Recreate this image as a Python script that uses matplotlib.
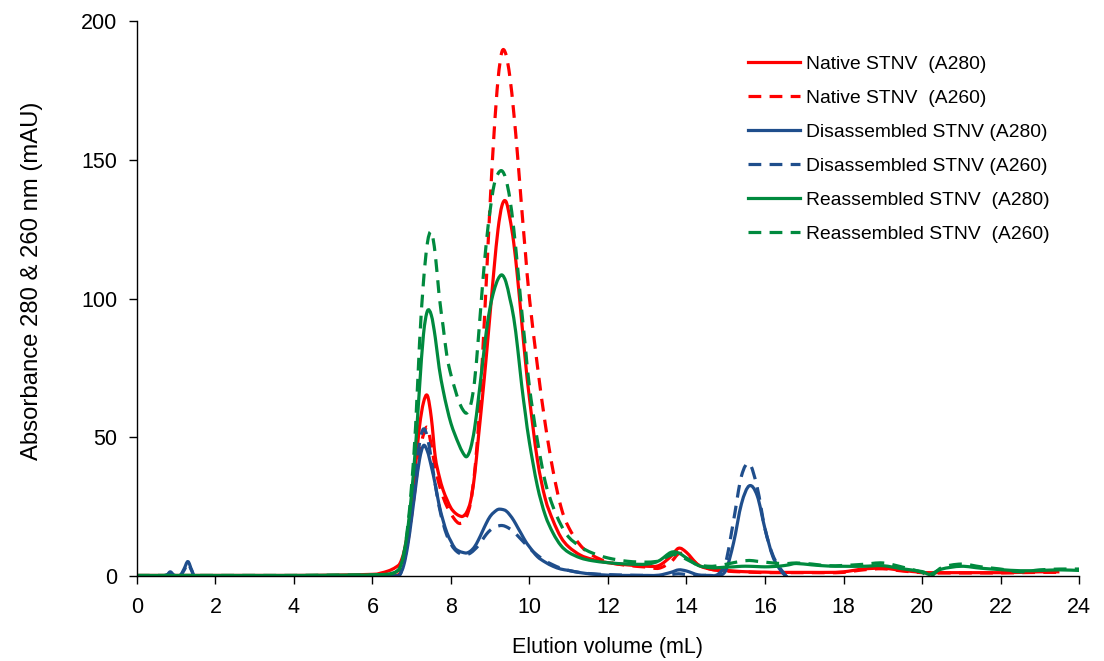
import numpy as np
import matplotlib
matplotlib.use("Agg")
import matplotlib.pyplot as plt
from matplotlib.path import Path
from matplotlib.patches import PathPatch
from matplotlib.lines import Line2D

plt.rcParams['font.family'] = ['Liberation Sans', 'DejaVu Sans']

# elution volume grid (mL)
volume = [0, 0.5, 0.75, 0.85, 0.95, 1.1, 1.2, 1.3, 1.4, 1.5,
          2, 3, 4, 5, 6, 6.2, 6.4, 6.5, 6.6,
          6.7, 6.8, 6.9, 7.0, 7.1, 7.2, 7.3, 7.4, 7.5, 7.6,
          7.7, 7.8, 7.9, 8.0, 8.1, 8.2, 8.3, 8.4, 8.5, 8.6,
          8.7, 8.8, 8.9, 9.0, 9.1, 9.2, 9.3, 9.4, 9.5, 9.6,
          9.7, 9.8, 9.9, 10.0, 10.2, 10.4, 10.6, 10.8, 11.0,
          11.3, 11.6, 12.0, 12.5, 13.0, 13.3, 13.6, 13.8, 14.0, 14.3, 14.6, 14.8,
          15.0, 15.2, 15.4, 15.6, 15.8, 16.0, 16.2, 16.4, 16.6, 16.8,
          17.2, 17.6, 18.0, 18.5, 19.0, 19.5, 20.0, 20.2, 20.5, 21.0, 21.5, 22.0, 22.5, 23.0, 23.5, 24.0]

nan = np.nan

native_280 = [0.2, 0.2, 0.2, 0.2, 0.2, 0.2, 0.2, 0.2, 0.2, 0.2,
              0.2, 0.2, 0.2, 0.3, 0.6, 1.0, 1.8, 2.4, 3.2,
              4.5, 8.5, 16, 27, 40, 54, 62.5, 65, 57, 43,
              36, 31, 27.5, 24.5, 22.8, 21.8, 21.5, 23, 27, 36,
              50, 64, 79, 95, 111, 125, 133.5, 135, 129, 120,
              107, 92, 77, 64, 42, 28, 20, 14, 10.5,
              7.5, 6, 4.8, 4, 3.5, 3.8, 7, 10, 8.5, 4, 2.5, 2.2,
              2, 1.8, 1.6, 1.5, 1.4, 1.4, 1.3, 1.3, 1.3, 1.3,
              1.3, 1.3, 1.5, 2.5, 2.8, 2, 1.3, 1.2, 1.2, 1.2, 1.2, 1.2, 1.3, 1.5, 1.5, nan]

native_260 = [0, 0, 0, 0, 0, 0, 0, 0, 0, 0,
              0, 0, 0, 0, 0, 0, 0, 0, 0.2,
              1, 5, 12, 22, 33, 44, 51, 53.5, 47, 39,
              33, 28.5, 25, 22.5, 20.3, 19, 19.3, 21.5, 26.5, 37,
              54, 78, 106, 135, 160, 179, 189, 188, 180, 167,
              151, 133, 116, 100, 76, 55, 38, 25, 17.5,
              11, 7.5, 5, 3.8, 3.2, 2.8, 5, 8, 7.5, 4, 2.5, 2,
              1.8, 1.6, 1.5, 1.4, 1.3, 1.2, 1.2, 1.2, 1.2, 1.2,
              1.2, 1.2, 1.3, 2.2, 2.6, 1.8, 1.2, 1.1, 1.1, 1.1, 1.1, 1.1, 1.2, 1.3, 1.3, nan]

disassembled_280 = [0, 0, 0.3, 1.5, 0.3, 0.2, 2.5, 5.2, 2, 0,
                    0, 0, 0, 0, 0, 0, 0, 0, 0,
                    0.5, 4, 11, 21, 32, 42, 47, 45, 39.5, 33,
                    25.5, 20, 15.5, 12.5, 10, 9, 8.5, 8.3, 9, 10.5,
                    13, 16, 19, 21.5, 23, 24, 24, 23.5, 22, 20,
                    17.5, 15, 12.5, 10.5, 7, 5, 3.5, 2.5, 2,
                    1.2, 0.7, 0.3, 0.2, 0.2, 0.3, 1.3, 2.2, 1.8, 0.4, 0.2, 0.2,
                    2, 12, 26, 32.5, 29, 17, 7, 2, -1, nan,
                    nan, nan, nan, nan, nan, nan, nan, nan, nan, nan, nan, nan, nan, nan, nan, nan]

disassembled_260 = [0, 0, 0.3, 1.2, 0.3, 0.2, 2, 4.5, 1.8, 0,
                    0, 0, 0, 0, 0, 0, 0, 0, 0,
                    0.5, 5, 13, 25, 37, 48, 53, 50, 42, 33,
                    25, 19, 14.5, 11.5, 9.5, 8.3, 7.8, 7.7, 8.3, 9.5,
                    11, 13, 15, 16.5, 17.5, 18, 18.2, 17.8, 17, 16,
                    14.5, 13, 11.5, 10, 7.5, 5.5, 4, 2.8, 2,
                    1.2, 0.8, 0.5, 0.3, 0.2, 0.1, 0.5, 0.8, 0.5, 0.2, 0.3, 0.6,
                    5, 20, 36, 40.5, 32, 17, 7.5, 2.5, -1, nan,
                    nan, nan, nan, nan, nan, nan, nan, nan, nan, nan, nan, nan, nan, nan, nan, nan]

reassembled_280 = [0.2, 0.2, 0.2, 0.2, 0.2, 0.2, 0.2, 0.2, 0.2, 0.2,
                   0.2, 0.2, 0.2, 0.3, 0.4, 0.5, 0.7, 1, 1.5,
                   3, 8, 17, 30, 47, 68, 87, 95.5, 94, 86,
                   75, 67, 60.5, 55, 51, 47.5, 44.5, 43, 46, 53,
                   64, 76, 88, 97, 103, 107, 108.5, 106, 100, 93,
                   82, 69, 58, 48, 32.5, 22, 15.5, 11, 8.5,
                   6.5, 5.5, 4.8, 4.3, 4.3, 5.5, 8.5, 8.3, 6.5, 3.8, 3, 3,
                   3.2, 3.3, 3.5, 3.5, 3.4, 3.3, 3.4, 3.6, 4, 4.5,
                   4, 3.6, 3.5, 3.5, 3.7, 2.6, 1.6, 0.6, 2.5, 3.5, 2.8, 2.3, 1.9, 2, 2.2, 2]

reassembled_260 = [0.2, 0.2, 0.2, 0.2, 0.2, 0.2, 0.2, 0.2, 0.2, 0.2,
                   0.2, 0.2, 0.2, 0.3, 0.4, 0.5, 0.6, 0.8, 1.5,
                   3, 8, 18, 33, 54, 84, 106, 120, 124, 116,
                   101, 90, 79, 72.5, 67.5, 63, 60, 58.7, 61.5, 70,
                   86, 104, 120, 132, 141, 145, 146, 143, 136, 125,
                   111, 96, 82, 68, 49, 34, 25, 18.5, 14,
                   10.5, 8.3, 6.5, 5.3, 5, 5.5, 7.5, 7.5, 6, 4, 3.5, 3.7,
                   4.2, 4.8, 5.3, 5.6, 5.3, 5, 4.7, 4.5, 4.5, 4.7,
                   4.3, 3.7, 3.8, 4.2, 4.7, 3.2, 1.3, -0.4, 3.0, 4.3, 3.3, 2.5, 1.5, 2.2, 2.5, 2.5]

labels = ["Native STNV  (A280)", "Native STNV  (A260)",
          "Disassembled STNV (A280)", "Disassembled STNV (A260)",
          "Reassembled STNV  (A280)", "Reassembled STNV  (A260)"]

red = '#FF0000'
blue = '#1F4E8C'
green = '#008A3E'


def smooth_path(x, y):
    # Excel-style smoothed line: Catmull-Rom through the points as cubic Beziers
    x = np.asarray(x, float)
    y = np.asarray(y, float)
    ok = ~np.isnan(y)
    x, y = x[ok], y[ok]
    pts = np.column_stack([x, y])
    verts = [pts[0]]
    codes = [Path.MOVETO]
    n = len(pts)
    for i in range(n - 1):
        p0 = pts[i - 1] if i > 0 else pts[i]
        p1 = pts[i]
        p2 = pts[i + 1]
        p3 = pts[i + 2] if i + 2 < n else pts[i + 1]
        c1 = p1 + (p2 - p0) / 6.0
        c2 = p2 - (p3 - p1) / 6.0
        verts += [c1, c2, p2]
        codes += [Path.CURVE4] * 3
    return Path(verts, codes)


fig = plt.figure(figsize=(11.04, 6.61), dpi=100)
ax = fig.add_axes([0.124, 0.1286, 0.8534, 0.8396])

lw = 2.3
dash = (4.0, 2.6)
series = [(native_280, red, '-'), (native_260, red, '--'),
          (disassembled_280, blue, '-'), (disassembled_260, blue, '--'),
          (reassembled_280, green, '-'), (reassembled_260, green, '--')]
handles = []
for (vals, col, ls), lab in zip(series, labels):
    patch = PathPatch(smooth_path(volume, vals), facecolor='none', edgecolor=col,
                      lw=lw, capstyle='butt', joinstyle='round')
    if ls == '--':
        patch.set_linestyle((0, dash))
    ax.add_patch(patch)
    h = Line2D([], [], color=col, lw=lw, label=lab)
    if ls == '--':
        h.set_dashes(dash)
    handles.append(h)

ax.set_xlim(0, 24)
ax.set_ylim(0, 200)
ax.set_xticks(range(0, 25, 2))
ax.set_yticks(range(0, 201, 50))
for s in ['top', 'right']:
    ax.spines[s].set_visible(False)
for s in ['left', 'bottom']:
    ax.spines[s].set_linewidth(1.0)
ax.tick_params(direction='out', length=6, width=1.0, labelsize=15.5)
ax.tick_params(axis='x', pad=9)
ax.tick_params(axis='y', pad=8)

ax.set_xlabel('Elution volume (mL)', fontsize=15.5, labelpad=14)
ax.set_ylabel('Absorbance 280 & 260 nm (mAU)', fontsize=17.2)
ax.yaxis.set_label_coords(-0.100, 0.532)

ax.legend(handles=handles, loc='upper left', bbox_to_anchor=(0.6486, 0.938),
          frameon=False, fontsize=13.9, handlelength=2.7, handletextpad=0.31,
          labelspacing=0.85, borderpad=0, borderaxespad=0)

fig.savefig('out.png', dpi=100)
